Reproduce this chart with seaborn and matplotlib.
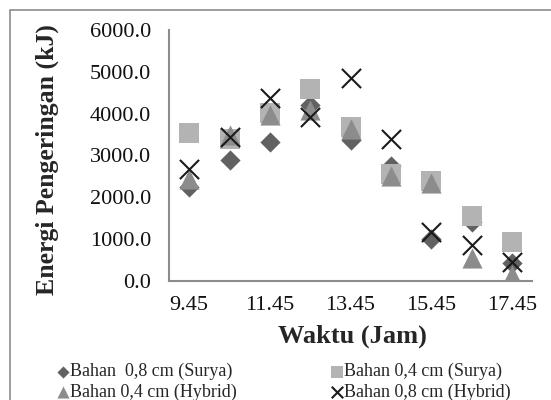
import numpy as np
import pandas as pd
import matplotlib
matplotlib.use("Agg")
import matplotlib.pyplot as plt
import seaborn as sns
from matplotlib.patches import Rectangle

# data
waktu = ["9.45", "10.45", "11.45", "12.45", "13.45", "14.45", "15.45", "16.45", "17.45"]
surya_08 = [2250, 2900, 3320, 4200, 3380, 2750, 1000, 1400, 420]
surya_04 = [3540, 3400, 4010, 4580, 3690, 2560, 2390, 1550, 930]
hybrid_04 = [2430, 3500, 3970, 4080, 3640, 2500, 2340, 560, 150]
hybrid_08 = [2680, 3450, 4380, 3930, 4860, 3400, 1160, 860, 450]

sns.set_style("white")
plt.rcParams['font.family'] = ['Liberation Serif', 'DejaVu Serif']

fig = plt.figure(figsize=(5.51, 4.0), dpi=100)
ax = fig.add_axes([169/551, 1 - 281/400, 363/551, 251/400])

pos = np.arange(len(waktu))
df = pd.DataFrame({"pos": pos, "s08": surya_08, "s04": surya_04,
                   "h04": hybrid_04, "h08": hybrid_08})

sns.scatterplot(data=df, x="pos", y="s08", marker="D", s=106, color="#616161",
                linewidth=0, ax=ax, label="Bahan  0,8 cm (Surya)", zorder=3)
sns.scatterplot(data=df, x="pos", y="s04", marker="s", s=228, color="#b3b3b3",
                linewidth=0, ax=ax, label="Bahan 0,4 cm (Surya)", zorder=3)
sns.scatterplot(data=df, x="pos", y="h04", marker="^", s=210, color="#8c8c8c",
                linewidth=0, ax=ax, label="Bahan 0,4 cm (Hybrid)", zorder=3)
sns.scatterplot(data=df, x="pos", y="h08", marker="x", s=190, color="#1a1a1a",
                linewidth=1.5, ax=ax, label="Bahan 0,8 cm (Hybrid)", zorder=4)

ax.set_xlim(-0.5, len(waktu) - 0.5)
ax.set_ylim(0, 6000)
ax.set_yticks(np.arange(0, 6001, 1000))
ax.set_yticklabels([f"{v:.1f}" for v in np.arange(0, 6001, 1000)])
ax.set_xticks(pos[::2])
ax.set_xticklabels(waktu[::2])
ax.set_xticks(np.arange(-0.5, len(waktu) - 0.5, 2), minor=True)

ax.tick_params(axis='x', which='major', length=0, pad=11, labelsize=16, colors='#111111')
ax.tick_params(axis='x', which='minor', length=5, width=1.5, color='#8c8c8c', direction='out')
ax.tick_params(axis='y', length=5, width=1.5, color='#8c8c8c', direction='out', pad=8,
               labelsize=16, labelcolor='#111111')

for side in ['top', 'right']:
    ax.spines[side].set_visible(False)
for side in ['left', 'bottom']:
    ax.spines[side].set_color('#8c8c8c')
    ax.spines[side].set_linewidth(1.5)

ax.set_xlabel("Waktu (Jam)", fontsize=19, fontweight='bold', va='center')
ax.xaxis.set_label_coords((352 - 169) / 363, (281 - 336) / 251)
ax.set_ylabel("Energi Pengeringan (kJ)", fontsize=18.5, fontweight='bold', va='center')
ax.yaxis.set_label_coords((47 - 169) / 363, (281 - 160) / 251)

handles, labels = ax.get_legend_handles_labels()
ax.get_legend().remove()
order = [0, 2, 1, 3]
leg = fig.legend([handles[i] for i in order], [labels[i] for i in order],
                 ncol=2, loc='upper left', bbox_to_anchor=(56/551, 1 - 363/400),
                 frameon=False, fontsize=13, handletextpad=0.0, columnspacing=5.1,
                 labelspacing=0.2, handlelength=0.8, markerscale=0.6,
                 borderpad=0, borderaxespad=0)

fig.patches.append(Rectangle((10/551, -0.2), 1.0, 1.2 - 10/400, transform=fig.transFigure,
                             fill=False, edgecolor='#8c8c8c', linewidth=1.2))

fig.savefig("out.png", dpi=100)
